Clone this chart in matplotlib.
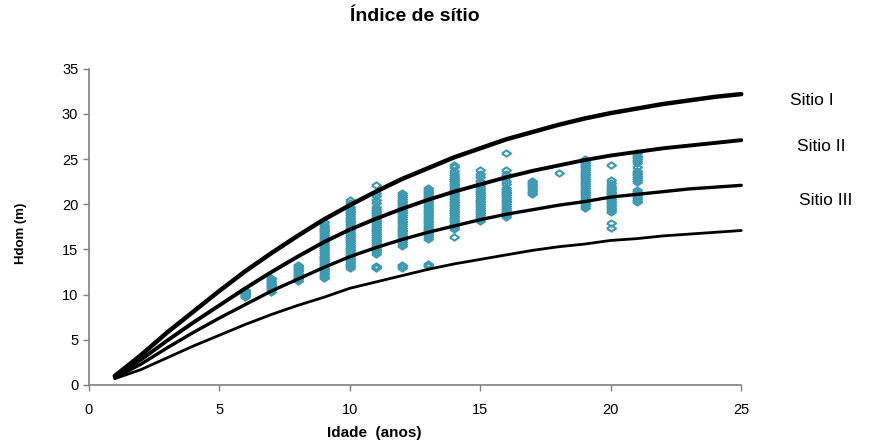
import matplotlib
matplotlib.use("Agg")
import matplotlib.pyplot as plt

plt.rcParams['font.family'] = ['Liberation Sans', 'DejaVu Sans']

# Curvas de índice de sítio
idade = list(range(1, 26))
sitio_1 = [1.0, 3.3, 5.8, 8.1, 10.4, 12.6, 14.6, 16.5, 18.3, 19.9, 21.4, 22.8, 24.0,
           25.2, 26.2, 27.2, 28.0, 28.8, 29.5, 30.1, 30.6, 31.1, 31.5, 31.9, 32.2]
sitio_2 = [0.9, 2.8, 4.9, 6.9, 8.8, 10.7, 12.5, 14.2, 15.8, 17.2, 18.4, 19.5, 20.5,
           21.4, 22.2, 23.0, 23.7, 24.3, 24.9, 25.4, 25.8, 26.2, 26.5, 26.8, 27.1]
sitio_3 = [0.8, 2.3, 4.1, 5.8, 7.4, 8.9, 10.4, 11.7, 13.0, 14.2, 15.2, 16.1, 16.9,
           17.6, 18.3, 18.9, 19.4, 19.9, 20.3, 20.8, 21.1, 21.4, 21.7, 21.9, 22.1]
sitio_4 = [0.7, 1.7, 3.0, 4.3, 5.5, 6.7, 7.8, 8.8, 9.7, 10.7, 11.4, 12.1, 12.8,
           13.4, 13.9, 14.4, 14.9, 15.3, 15.6, 16.0, 16.2, 16.5, 16.7, 16.9, 17.1]
nomes = ["Sitio I", "Sitio II", "Sitio III"]

# Dados observados (altura dominante por idade)
hdom = {
    6: [9.7, 9.8, 9.9, 10.0, 10.1, 10.2, 10.3, 10.4, 10.5],
    7: [10.3, 10.5, 10.6, 10.8, 10.9, 11.1, 11.2, 11.4, 11.5, 11.7, 11.8],
    8: [11.5, 11.7, 11.8, 12.0, 12.1, 12.3, 12.4, 12.6, 12.7, 12.9, 13.0, 13.2, 13.3],
    9: [11.8, 12.0, 12.2, 12.4, 12.6, 12.8, 13.0, 13.2, 13.3, 13.5, 13.7, 13.9,
        14.0, 14.2, 14.4, 14.6, 14.8, 15.0, 15.1, 15.3, 15.5, 15.7, 15.9, 16.1,
        16.2, 16.4, 16.6, 16.8, 17.0, 17.2, 17.3, 17.5, 17.7, 18.0],
    10: [13.0, 13.2, 13.3, 13.5, 13.7, 13.9, 14.1, 14.3, 14.5, 14.7, 14.9, 15.1,
         15.3, 15.5, 15.7, 15.9, 16.1, 16.3, 16.5, 16.7, 16.9, 17.1, 17.3, 17.5,
         17.7, 17.9, 18.1, 18.3, 18.5, 18.7, 18.9, 19.1, 19.3, 19.5, 19.7, 20.1, 20.5],
    11: [12.9, 13.1, 13.2, 14.5, 14.7, 14.9, 15.1, 15.3, 15.5, 15.7, 15.9, 16.1,
         16.3, 16.5, 16.7, 16.9, 17.1, 17.3, 17.5, 17.7, 17.9, 18.1, 18.3, 18.5,
         18.7, 18.9, 19.1, 19.3, 19.5, 19.7, 20.1, 20.5, 20.9, 21.3, 22.1],
    12: [13.0, 13.2, 13.3, 15.4, 15.6, 15.8, 16.0, 16.2, 16.4, 16.6, 16.8, 17.0,
         17.2, 17.4, 17.6, 17.8, 18.0, 18.2, 18.4, 18.6, 18.8, 19.0, 19.2, 19.4,
         19.6, 19.8, 20.0, 20.2, 20.4, 20.6, 20.8, 21.0, 21.3],
    13: [13.2, 13.3, 13.4, 16.2, 16.4, 16.6, 16.8, 17.0, 17.2, 17.4, 17.6, 17.8,
         18.0, 18.2, 18.4, 18.6, 18.8, 19.0, 19.2, 19.4, 19.6, 19.8, 20.0, 20.2,
         20.4, 20.6, 20.8, 21.0, 21.2, 21.4, 21.6, 21.8],
    14: [16.4, 17.3, 17.5, 17.7, 17.9, 18.1, 18.3, 18.5, 18.7, 18.9, 19.1, 19.3,
         19.5, 19.7, 19.9, 20.1, 20.3, 20.5, 20.7, 20.9, 21.1, 21.3, 21.5, 21.7,
         21.9, 22.1, 22.3, 22.5, 22.7, 22.9, 23.1, 23.3, 23.7, 24.1, 24.4],
    15: [18.2, 18.4, 18.6, 18.8, 19.0, 19.2, 19.4, 19.6, 19.8, 20.0, 20.2, 20.4,
         20.6, 20.8, 21.0, 21.2, 21.4, 21.6, 21.8, 22.0, 22.2, 22.6, 23.0, 23.4, 23.8],
    16: [18.6, 18.8, 19.0, 19.2, 19.4, 19.6, 19.8, 20.0, 20.2, 20.4, 20.6, 20.8,
         21.0, 21.2, 21.4, 21.6, 21.8, 22.2, 22.6, 23.0, 23.4, 23.8, 25.7],
    17: [21.1, 21.3, 21.5, 21.7, 21.9, 22.1, 22.3, 22.5, 22.6],
    18: [23.5],
    19: [19.6, 19.8, 20.0, 20.2, 20.4, 20.6, 20.8, 21.0, 21.2, 21.4, 21.6, 21.8,
         22.0, 22.2, 22.4, 22.6, 22.8, 23.0, 23.2, 23.4, 23.6, 23.8, 24.0, 24.2,
         24.4, 24.6, 24.8, 25.0],
    20: [17.4, 17.9, 19.2, 19.4, 19.6, 19.8, 20.0, 20.2, 20.4, 20.6, 20.8, 21.0,
         21.2, 21.4, 21.6, 21.8, 22.0, 22.4, 22.7, 24.4],
    21: [20.2, 20.4, 20.6, 20.8, 21.0, 21.2, 21.4, 21.6, 22.5, 22.7, 22.9, 23.1,
         23.3, 23.5, 23.7, 24.1, 24.6, 24.8, 25.0, 25.2, 25.4, 25.7],
}

fig = plt.figure(figsize=(8.7, 4.44), dpi=100)
ax = fig.add_axes([0.102, 0.133, 0.75, 0.712])

# losango mais largo que alto, como no original
losango = [(-1, 0), (0, 0.7), (1, 0), (0, -0.7), (-1, 0)]
cor = "#3d9ab3"
for x, ys in hdom.items():
    ax.plot([x] * len(ys), ys, linestyle="none", marker=losango, markersize=6.5,
            markerfacecolor="none", markeredgecolor=cor, markeredgewidth=1.5)

larguras = [3.2, 2.8, 2.4, 2.0]
for serie, lw in zip([sitio_1, sitio_2, sitio_3, sitio_4], larguras):
    ax.plot(idade, serie, color="black", linewidth=lw, clip_on=False,
            solid_capstyle="round")

ax.set_xlim(0, 25)
ax.set_ylim(0, 35)
ax.set_xticks(range(0, 26, 5))
ax.set_yticks(range(0, 36, 5))
ax.spines["top"].set_visible(False)
ax.spines["right"].set_visible(False)
for s in ["left", "bottom"]:
    ax.spines[s].set_color("#808080")
    ax.spines[s].set_linewidth(1.2)
ax.tick_params(colors="#808080", labelcolor="black", labelsize=10.5,
               length=4, width=1, direction="out")
ax.tick_params(axis="x", pad=9)

fig.text(0.477, 0.962, "Índice de sítio", ha="center", va="center",
         fontsize=14, fontweight="bold")
fig.text(0.43, 0.024, "Idade  (anos)", ha="center", va="center",
         fontsize=11, fontweight="bold")
fig.text(0.024, 0.475, "Hdom (m)", ha="center", va="center", rotation=90,
         fontsize=9.5, fontweight="bold")

pos_x = [0.908, 0.916, 0.918]
pos_y = [0.773, 0.669, 0.549]
for nome, px, py in zip(nomes, pos_x, pos_y):
    fig.text(px, py, nome, ha="left", va="center", fontsize=12.5)

fig.savefig("out.png", dpi=100)
